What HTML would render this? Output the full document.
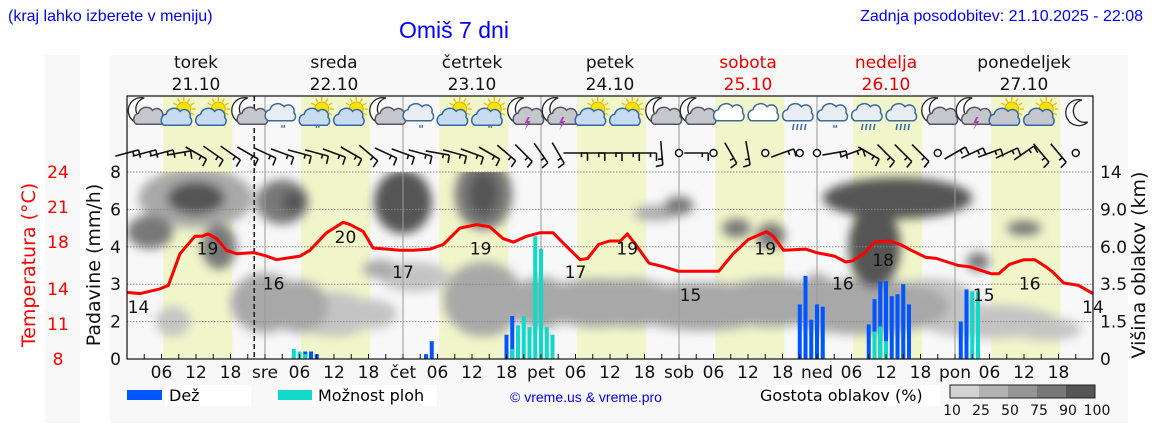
<!DOCTYPE html>
<html><head><meta charset="utf-8"><style>
html,body{margin:0;padding:0;background:#fff;}
svg{display:block;font-family:"DejaVu Sans","Liberation Sans",sans-serif;}
.t{font-family:"Liberation Sans",sans-serif;}
</style></head><body>
<svg id="c" width="1152" height="443" viewBox="0 0 1152 443">
<defs>
<filter id="bl" x="-30%" y="-30%" width="160%" height="160%"><feGaussianBlur stdDeviation="5"/></filter>
<clipPath id="pc"><rect x="127" y="172" width="966" height="187"/></clipPath>
</defs>
<rect x="45" y="55" width="35" height="368" fill="#f8f8f8"/>
<rect x="110" y="55" width="1018" height="368" fill="#f8f8f8"/>
<text class="t" x="8" y="21" font-size="16" fill="#0000ff">(kraj lahko izberete v meniju)</text>
<text class="t" x="399" y="38" font-size="23" fill="#0000ff">Omiš 7 dni</text>
<text class="t" x="1143" y="21" font-size="16" fill="#0000ff" text-anchor="end">Zadnja posodobitev: 21.10.2025 - 22:08</text>
<g id="bg"></g><g clip-path="url(#pc)"><g id="clouds" filter="url(#bl)"></g></g><g id="grid"></g><g id="bars"></g><g id="temp"></g><g id="icons"></g><g id="wind"></g><g id="axes"></g>
<g>
<rect x="127" y="390" width="35" height="10" fill="#0055ff"/>
<rect x="165" y="385" width="86" height="21" fill="#fff"/>
<text x="169" y="401" font-size="16">Dež</text>
<rect x="278" y="390" width="34" height="10" fill="#11d8c8"/>
<rect x="312" y="385" width="125" height="21" fill="#fff"/>
<text x="318" y="401" font-size="16">Možnost ploh</text>
<text class="t" x="586" y="402" font-size="14" fill="#0000ff" text-anchor="middle">© vreme.us &amp; vreme.pro</text>
<rect x="762" y="385" width="178" height="21" fill="#fff"/>
<text x="760" y="401" font-size="16">Gostota oblakov (%)</text>
<g id="cleg"></g>
</g>
</svg>
<script>
const NS='http://www.w3.org/2000/svg';
function mk(tag,attrs,parent){const e=document.createElementNS(NS,tag);for(const k in attrs)e.setAttribute(k,attrs[k]);parent.appendChild(e);return e;}
const $=id=>document.getElementById(id);

// ---- data ----
const dayNames=['torek','sreda','četrtek','petek','sobota','nedelja','ponedeljek'];
const dayDates=['21.10','22.10','23.10','24.10','25.10','26.10','27.10'];
const weekendDays=[4,5];
const dayAbbr=['','sre','čet','pet','sob','ned','pon'];
const precipTicks=[0,2,3,4,6,8];
const tempTicks=[8,11,14,18,21,24];
const cloudTicks=['0','1.5','3.5','6.0','9.0','14'];
const tempHours=[0,2.3,5.7,7.2,9.2,11.8,13,14.1,15.6,17.3,19.1,22,24.3,26,30.1,31.8,34.7,37.6,38.8,41.1,42.8,45.2,47.5,49.8,52.7,55,57.9,60.8,63.1,65.4,67.2,69.5,71.8,74.1,75.9,78.8,80.1,82,83.9,85.8,87,88.3,90.8,93.3,95.9,99.7,102.9,105.4,108,111.2,112.4,114.2,118,119.9,123,125,126.2,128.1,130,132.6,134.5,136.4,138.9,140.8,142.7,144.6,146.5,148.4,150.3,151.6,153.5,156,157.9,159.8,161.1,162.9,165.5,168];
const tempValues=[13.7,13.6,14.0,14.3,17.0,18.5,18.5,18.7,18.3,17.3,17.0,17.1,16.8,16.5,16.8,17.3,18.8,19.7,19.5,18.9,17.5,17.4,17.3,17.3,17.4,17.8,19.2,19.5,19.3,18.3,18.0,18.5,18.8,18.8,17.9,16.5,16.6,17.8,18.1,18.1,18.7,17.9,16.2,15.9,15.5,15.5,15.5,17.0,18.2,18.9,18.5,17.3,17.4,17.1,16.8,16.3,16.4,17.0,18.0,18.1,17.8,17.3,16.7,16.6,16.3,16.0,15.9,15.6,15.3,15.3,16.1,16.5,16.5,15.9,15.4,14.5,14.3,13.6];
const tempLabelHours=[2,14,25.5,38,48,61.5,78,87,98,111,124.5,131.5,149,157,168];
const tempLabelValues=[14,19,16,20,17,19,17,19,15,19,16,18,15,16,14];
const rainHours=[29,30,31,32,33,52,53,66,67,68,69,70,71,72,73,74,117,118,119,120,121,129,130,131,132,133,134,135,136,145,146,147,148];
const rainValues=[0,0,0.4,0.4,0.26,0.26,0.95,1.3,2.15,0,0,0,0,0,0,0,2.46,3.22,2.05,2.46,2.4,1.85,2.6,3.08,3.08,2.68,2.73,3.0,2.46,2.0,2.86,0,0];
const showerValues=[0.53,0.4,0.26,0,0,0,0,0,0.53,1.8,2.15,1.7,4.56,3.95,1.7,1.3,0,0,0,0,0,0,1.47,1.74,0.95,0,0,0,0,0,0,2.81,2.81];
// cloud blobs: centre hour, centre level (grid index 0..5), width (h), height (grid units), density %
const cloudHour=[24,36,62,82,100,128,150,12,12,4,16,27,29,48,36,62,62,120,134,130,128,92,96,106,112,148,156,50,44,30,42,72,88,112,140,160,8];
const cloudLevel=[1.5,1.3,1.6,1.5,1.4,1.4,1.0,4.3,4.3,3.4,3.0,4.2,4.2,4.2,0.9,4.4,4.4,1.6,4.3,3.0,4.3,3.9,4.1,3.5,3.3,2.6,3.5,2.2,2.4,1.4,1.2,1.5,1.5,1.5,1.5,0.8,1.0];
const cloudWidth=[12,12,14,22,26,30,24,20,10,8,6,9,4,10,10,10,5,6,26,9,8,8,5,5,5,4,6,12,6,10,10,10,16,20,16,12,6];
const cloudHeight=[1.6,1.0,2.0,1.3,1.3,1.5,0.9,1.6,0.9,0.9,1.2,1.2,0.6,1.7,0.6,1.9,1.2,1.4,1.1,2.2,0.8,0.4,0.5,0.5,0.7,0.5,0.4,0.8,0.5,1.4,0.8,1.4,1.3,1.3,1.3,0.6,0.8];
const cloudDensity=[50,40,50,50,50,50,25,50,90,75,75,75,90,90,40,75,90,50,95,90,90,50,75,75,75,75,75,25,50,50,40,50,50,50,40,25,25];
// icons every 6h starting at 03h
const iconTypes=['mc','sc','sc','mc','cr','scr','sc','mc','cr','sc','scr','ms','ms','sc','sc','mc','mc','c','c','crh','cr','crh','crh','mc','ms','sc','sc','m'];
// wind every 3h: shaft angle (deg), null = calm
const windAngles=[-15,-15,-15,-10,30,35,35,30,25,20,15,15,20,30,40,25,20,15,10,15,20,30,40,45,55,60,0,0,0,0,0,85,null,0,null,60,80,null,-20,null,null,-10,-20,30,45,45,45,null,-30,-25,-20,-25,-35,50,50,null];

// ---- scales ----
const X0=127,PX=5.75;
const xH=h=>X0+h*PX;
const yLev=k=>359-k*37.4;
function yP(v){for(let i=0;i<precipTicks.length-1;i++){const a=precipTicks[i],b=precipTicks[i+1];if(v<=b)return yLev(i+(v-a)/(b-a));}return yLev(5);}
const yT=t=>359-(t-8)*187/16;
const shade=d=>d>=90?'#555':d>=75?'#787878':d>=50?'#a8a8a8':d>=25?'#c4c4c4':'#d8d8d8';

// ---- background ----
const bg=$('bg');
let r=mk('rect',{x:127,y:96,width:966,height:263,fill:'#f8f8f8'},bg);

for(let d=0;d<7;d++){
  r=mk('rect',{x:xH(d*24+6.3),y:96,width:12*PX,height:263,fill:'#f1f6ca'},bg);
  
  
  let t=mk('text',{x:xH(d*24+12),y:68,'font-size':17,'text-anchor':'middle',fill:weekendDays.includes(d)?'#e00':'#111'},bg);
  t.textContent=dayNames[d];
  
  
  t=mk('text',{x:xH(d*24+12),y:90,'font-size':17,'text-anchor':'middle',fill:weekendDays.includes(d)?'#e00':'#111'},bg);
  t.textContent=dayDates[d];
  
  
}
// ---- clouds ----
const cg=$('clouds');
const order=cloudDensity.map((d,i)=>i).sort((a,b)=>cloudDensity[a]-cloudDensity[b]);
for(const i of order){
  const w=cloudWidth[i]*PX,h=cloudHeight[i]*37.4;
  r=mk('ellipse',{cx:xH(cloudHour[i]),cy:yLev(cloudLevel[i]),rx:w/2,ry:h/2,fill:shade(cloudDensity[i])},cg);
  
  
}
// ---- grid ----
const gg=$('grid');
for(let k=1;k<precipTicks.length;k++){
  const l=mk('line',{x1:127,x2:1093,y1:yLev(k),y2:yLev(k),stroke:'#888','stroke-width':1,'stroke-dasharray':'1.5,1.5'},gg);
  
  
}
for(let d=1;d<7;d++){
  const l=mk('line',{x1:xH(d*24),x2:xH(d*24),y1:96,y2:359,stroke:'#999','stroke-width':1},gg);
  
  
}
let nl=mk('line',{x1:xH(22.13),x2:xH(22.13),y1:96,y2:359,stroke:'#222','stroke-width':1.6,'stroke-dasharray':'5,3'},gg);


// ---- bars ----
const bgp=$('bars');
rainHours.forEach((h,i)=>{
  const cx=xH(h);
  if(rainValues[i]>0){const b=mk('rect',{x:cx-2,y:yP(rainValues[i]),width:4,height:359-yP(rainValues[i]),fill:'#0055ff'},bgp);
    
    }
  if(showerValues[i]>0){const b=mk('rect',{x:cx-2,y:yP(showerValues[i]),width:4,height:359-yP(showerValues[i]),fill:'#11d8c8'},bgp);
    
    }
});
// ---- temperature ----
const tg=$('temp');
const pts=tempHours.map((h,i)=>xH(h).toFixed(1)+','+yT(tempValues[i]).toFixed(1)).join(' ');
const pl=mk('polyline',{points:pts,fill:'none',stroke:'#f00','stroke-width':3,'stroke-linejoin':'round'},tg);


tempLabelHours.forEach((h,i)=>{
  const t=mk('text',{x:xH(h),y:yT(tempLabelValues[i])+24,'font-size':17,'text-anchor':'middle',fill:'#111'},tg);
  t.textContent=tempLabelValues[i];
  
  
});
// ---- icons ----
const ig=$('icons');
function cloud(g,x,y,s,fill,stroke){
  mk('path',{d:`M${x-13*s},${y+7*s} a6 6 0 0 1 2,-11 a8 8 0 0 1 14,-3 a6 6 0 0 1 10,6 a5 5 0 0 1 -1,8 z`,fill,stroke,'stroke-width':1.5},g);
}
function sun(g,x,y){for(let a=0;a<360;a+=30){const rr=a*Math.PI/180;mk('line',{x1:x+Math.cos(rr)*8,y1:y+Math.sin(rr)*8,x2:x+Math.cos(rr)*12,y2:y+Math.sin(rr)*12,stroke:'#e8c800','stroke-width':1.5},g);}
  mk('circle',{cx:x,cy:y,r:7,fill:'#f4e200',stroke:'#e0b000'},g);}
function moon(g,x,y){mk('path',{d:`M${x+4},${y-13} a13 13 0 1 0 6,22 a11 11 0 0 1 -6,-22 z`,fill:'#fff',stroke:'#222','stroke-width':1.3},g);}
iconTypes.forEach((tp,i)=>{
  const cx=xH(3+i*6),cy=113;
  const g=mk('g',{},ig);
  
  
  if(tp==='m'){moon(g,cx+2,cy);return;}
  if(tp[0]==='m'){moon(g,cx-4,cy-2);cloud(g,cx+4,cy+5,0.9,'#c4c8cc','#556');}
  if(tp[0]==='s'){sun(g,cx+5,cy-4);cloud(g,cx-3,cy+6,0.9,tp==='sc'&&i>24?'#c4c8cc':'#c8dcf0','#3366aa');}
  if(tp[0]==='c'){cloud(g,cx,cy,1.1,tp==='c'?'#fff':'#e8eef4','#3a6a9a');}
  if(tp==='cr'||tp==='scr'){const t=mk('text',{x:cx-2,y:cy+20,'font-size':11,fill:'#3366aa','font-weight':'bold'},g);t.textContent='"';}
  if(tp==='crh'){for(let k=0;k<4;k++)mk('line',{x1:cx-6+k*4,y1:cy+11,x2:cx-7+k*4,y2:cy+17,stroke:'#3366aa','stroke-width':1.5},g);}
  if(tp==='ms'){mk('path',{d:`M${cx+4},${cy+4} l-3,6 h3 l-3,7 l6,-9 h-3 l2,-4 z`,fill:'#b03ab0'},g);}
});
// ---- wind ----
const wg=$('wind');
windAngles.forEach((a,i)=>{
  const cx=xH(i*3),cy=153;
  const g=mk('g',{},wg);
  
  
  if(a===null){mk('circle',{cx,cy,r:3.5,fill:'#fff',stroke:'#111','stroke-width':1.5},g);return;}
  const rr=a*Math.PI/180,L=12,dx=Math.cos(rr)*L,dy=Math.sin(rr)*L;
  mk('line',{x1:cx-dx,y1:cy-dy,x2:cx+dx,y2:cy+dy,stroke:'#111','stroke-width':1.6},g);
  const nx=-Math.sin(rr)*7,ny=Math.cos(rr)*7;
  mk('line',{x1:cx+dx,y1:cy+dy,x2:cx+dx+nx,y2:cy+dy+Math.abs(ny)+1,stroke:'#111','stroke-width':1.6},g);
  mk('line',{x1:cx+dx*0.5,y1:cy+dy*0.5,x2:cx+dx*0.5+nx*0.6,y2:cy+dy*0.5+Math.abs(ny)*0.6,stroke:'#111','stroke-width':1.6},g);
});
// ---- axes ----
const ag=$('axes');
r=mk('rect',{x:127,y:96,width:966,height:263,fill:'none',stroke:'#111','stroke-width':1.2},ag);

precipTicks.forEach((v,k)=>{
  let t=mk('text',{x:121,y:yLev(k)+6,'font-size':17,'text-anchor':'end',fill:'#111'},ag);t.textContent=v;
  
  
  t=mk('text',{x:58,y:yT(tempTicks[k])+6,'font-size':17,'text-anchor':'middle',fill:'#f00'},ag);t.textContent=tempTicks[k];
  
  
  t=mk('text',{x:1100,y:yLev(k)+6,'font-size':17,fill:'#111'},ag);t.textContent=cloudTicks[k];
  
  
});
for(let h=3;h<168;h+=3){mk('line',{x1:xH(h),x2:xH(h),y1:359,y2:354,stroke:'#111'},ag);}
for(let h=6;h<168;h+=6){
  const d=Math.floor(h/24),hh=h%24;
  const t=mk('text',{x:xH(h),y:378,'font-size':17,'text-anchor':'middle',fill:'#111'},ag);
  t.textContent=hh===0?dayAbbr[d]:String(hh).padStart(2,'0');
  
  
}
let yl=mk('text',{x:0,y:0,'font-size':19,'text-anchor':'middle',fill:'#f00',transform:'translate(35,265) rotate(-90)'},ag);
yl.textContent='Temperatura (°C)';


yl=mk('text',{x:0,y:0,'font-size':19,'text-anchor':'middle',fill:'#111',transform:'translate(100,265) rotate(-90)'},ag);
yl.textContent='Padavine (mm/h)';


yl=mk('text',{x:0,y:0,'font-size':19,'text-anchor':'middle',fill:'#111',transform:'translate(1145,265) rotate(-90)'},ag);
yl.textContent='Višina oblakov (km)';


// cloud density legend
const legDens=[10,25,50,75,90,100];
const legShades=['#d3d3d3','#b2b2b2','#959595','#787878','#555'];
const lg=$('cleg');
for(let i=0;i<5;i++){
  const b=mk('rect',{x:950+i*29,y:385,width:29,height:13,fill:legShades[i]},lg);
  
  
}
mk('rect',{x:950,y:385,width:145,height:13,fill:'none',stroke:'#222'},lg);
legDens.forEach((v,i)=>{const t=mk('text',{x:952+i*29,y:415,'font-size':14,'text-anchor':'middle',fill:'#111'},lg);t.textContent=v;
  
  });
</script>
</body></html>
